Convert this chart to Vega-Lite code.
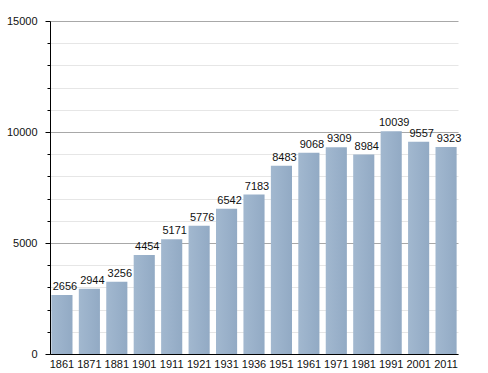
{
  "$schema": "https://vega.github.io/schema/vega-lite/v6.json",
  "autosize": "none",
  "width": 408,
  "height": 333,
  "padding": {"left": 50, "top": 21, "right": 30, "bottom": 19},
  "background": "white",
  "config": {
    "view": {"stroke": null},
    "font": "Liberation Sans"
  },
  "data": {
    "values": [
      {"year": "1861", "pop": 2656},
      {"year": "1871", "pop": 2944},
      {"year": "1881", "pop": 3256},
      {"year": "1901", "pop": 4454},
      {"year": "1911", "pop": 5171},
      {"year": "1921", "pop": 5776},
      {"year": "1931", "pop": 6542},
      {"year": "1936", "pop": 7183},
      {"year": "1951", "pop": 8483},
      {"year": "1961", "pop": 9068},
      {"year": "1971", "pop": 9309},
      {"year": "1981", "pop": 8984},
      {"year": "1991", "pop": 10039},
      {"year": "2001", "pop": 9557},
      {"year": "2011", "pop": 9323}
    ]
  },
  "encoding": {
    "x": {
      "field": "year",
      "type": "ordinal",
      "sort": null,
      "scale": {"paddingInner": 0.23, "paddingOuter": 0.05},
      "axis": {
        "title": null,
        "labelAngle": 0,
        "ticks": false,
        "domainColor": "#000000",
        "domainWidth": 1,
        "labelFontSize": 11,
        "labelColor": "#111111",
        "labelPadding": 4
      }
    },
    "y": {
      "field": "pop",
      "type": "quantitative",
      "scale": {"domain": [0, 15000], "nice": false},
      "axis": {
        "title": null,
        "values": [0, 1000, 2000, 3000, 4000, 5000, 6000, 7000, 8000, 9000, 10000, 11000, 12000, 13000, 14000, 15000],
        "format": "d",
        "labelExpr": "datum.value % 5000 === 0 ? datum.label : ''",
        "labelFontSize": 11,
        "labelColor": "#111111",
        "labelPadding": 8,
        "domainColor": "#000000",
        "tickColor": "#000000",
        "tickSize": {"condition": {"test": "datum.value % 5000 === 0", "value": 5}, "value": 3},
        "gridColor": {"condition": {"test": "datum.value % 5000 === 0", "value": "#a8a8a8"}, "value": "#e6e6e6"},
        "grid": true
      }
    }
  },
  "layer": [
    {
      "mark": {
        "type": "bar",
        "fill": {
          "gradient": "linear",
          "x1": 0, "x2": 1, "y1": 0, "y2": 0,
          "stops": [
            {"offset": 0, "color": "#a2b8cf"},
            {"offset": 0.5, "color": "#9ab1ca"},
            {"offset": 1, "color": "#92aac4"}
          ]
        }
      }
    },
    {
      "mark": {"type": "text", "baseline": "alphabetic", "dy": -5, "dx": 3, "fontSize": 11, "color": "#111111"},
      "encoding": {"text": {"field": "pop", "type": "quantitative", "format": "d"}}
    }
  ]
}
